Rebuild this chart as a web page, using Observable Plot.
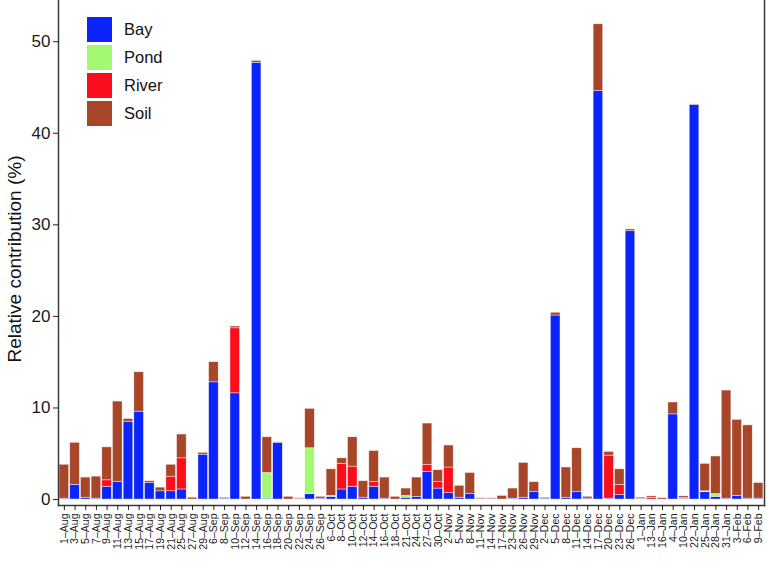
<!DOCTYPE html>
<html><head><meta charset="utf-8">
<script src="https://cdn.jsdelivr.net/npm/d3@7"></script>
<script src="https://cdn.jsdelivr.net/npm/@observablehq/plot@0.6"></script>
<style>
body{margin:0;background:#fff;font-family:"Liberation Sans",Arial,sans-serif}
#wrap{position:relative;width:767px;height:563px}
#legend{position:absolute;left:86px;top:15px}
.row{display:flex;align-items:center;height:28px}
.sw{width:27px;height:27px;box-sizing:border-box;border:1px solid #fff;margin-right:11px}
.lab{font-size:16.5px;color:#111}
</style></head><body><div id="wrap"></div><script>
const dates = ["1–Aug","3–Aug","5–Aug","7–Aug","9–Aug","11–Aug","13–Aug","15–Aug","17–Aug","19–Aug","21–Aug","25–Aug","27–Aug","29–Aug",
"6–Sep","8–Sep","10–Sep","12–Sep","14–Sep","16–Sep","18–Sep","20–Sep","22–Sep","24–Sep","26–Sep",
"6–Oct","8–Oct","10–Oct","12–Oct","14–Oct","16–Oct","18–Oct","21–Oct","24–Oct","27–Oct","30–Oct",
"2–Nov","5–Nov","8–Nov","11–Nov","14–Nov","17–Nov","23–Nov","26–Nov","29–Nov",
"2–Dec","5–Dec","8–Dec","11–Dec","14–Dec","17–Dec","20–Dec","23–Dec","26–Dec",
"1–Jan","13–Jan","16–Jan","4–Jan","10–Jan","22–Jan","25–Jan","28–Jan","31–Jan",
"3–Feb","6–Feb","9–Feb"];
const sources = ["Bay","Pond","River","Soil"];
const colors = ["#0a24fb","#a3f972","#fb0e1c","#a8462a"];
const bay = [0.1,1.6,0.2,0.1,1.4,1.9,8.5,9.6,1.8,0.9,0.9,1.1,0,4.9,12.8,0.1,11.6,0,47.7,0.1,6.2,0,0.05,0.6,0.1,0.3,1.1,1.4,0.2,1.4,0.1,0,0.2,0.3,3.0,1.2,0.7,0.2,0.6,0.05,0.05,0,0.1,0.2,0.8,0.1,20.1,0.2,0.8,0.1,44.6,0.1,0.5,29.3,0.05,0,0,9.3,0.1,43.1,0.8,0.3,0.1,0.4,0.1,0.1];
const pond = [0,0,0,0,0,0,0,0,0,0,0,0,0,0,0,0,0,0,0,2.8,0,0,0,5.0,0,0.1,0,0,0,0,0,0,0.2,0,0,0,0,0,0,0,0,0,0,0,0,0,0,0,0,0,0,0,0,0,0,0,0,0,0.05,0,0.1,0.3,0,0,0,0];
const river = [0,0,0,0,0.7,0,0,0,0,0,1.6,3.4,0,0,0,0,7.1,0,0,0,0,0,0,0,0,0,2.8,2.2,0,0.5,0,0,0,0,0.8,0.7,2.8,0,0,0,0,0,0,0,0,0,0,0,0,0,0,4.7,1.1,0,0,0.2,0,0,0,0,0,0,0,0,0,0];
const soil = [3.7,4.6,2.2,2.4,3.6,8.8,0.3,4.3,0.2,0.4,1.3,2.6,0.2,0.2,2.2,0.1,0.2,0.3,0.2,3.9,0.05,0.3,0.1,4.3,0.2,2.9,0.6,3.2,1.8,3.4,2.3,0.3,0.8,2.1,4.5,1.3,2.4,1.3,2.3,0.1,0.1,0.4,1.1,3.8,1.1,0.1,0.3,3.3,4.8,0.2,7.3,0.4,1.7,0.2,0.15,0.15,0.15,1.3,0.2,0.05,3.0,4.1,11.8,8.3,8.0,1.7];
const yTicks = [0,10,20,30,40,50];

const series = [bay, pond, river, soil];
const data = [];
dates.forEach((d, i) => sources.forEach((s, j) => {
  if (series[j][i] > 0) data.push({date: d, source: s, value: series[j][i]});
}));

const font = '"Liberation Sans", Arial, sans-serif';
const chart = Plot.plot({
  width: 767, height: 563,
  marginTop: 0, marginBottom: 58, marginLeft: 58, marginRight: 3,
  style: {fontFamily: font, background: "white", color: "#1a1a1a"},
  x: {domain: dates, padding: 0.1},
  y: {domain: [-0.65, 54.5]},
  color: {domain: sources, range: colors},
  marks: [
    Plot.barY(data, {x: "date", y: "value", fill: "source", z: "source", order: sources,
      stroke: "white", strokeWidth: 0.6, strokeOpacity: 0.7}),
    Plot.frame({anchor: "left", stroke: "#3a3a3a", strokeWidth: 1.5}),
    Plot.frame({anchor: "bottom", stroke: "#3a3a3a", strokeWidth: 1.5}),
    Plot.frame({anchor: "right", stroke: "#3a3a3a", strokeWidth: 1.5}),
    Plot.axisY({ticks: yTicks, tickSize: 5, tickPadding: 3, fontSize: 17, label: null, stroke: "#222"}),
    Plot.axisX({tickRotate: -90, tickSize: 5, tickPadding: 3, fontSize: 10.5, label: null, stroke: "#222"}),
    Plot.text(["Relative contribution (%)"], {frameAnchor: "left", textAnchor: "middle", dx: -44, dy: 6, rotate: -90, fontSize: 19, fill: "#111"})
  ]
});
const wrap = document.getElementById("wrap");
wrap.appendChild(chart);
const legend = d3.select(wrap).append("div").attr("id", "legend");
sources.forEach((s, i) => {
  const row = legend.append("div").attr("class", "row");
  row.append("div").attr("class", "sw").style("background", colors[i]);
  row.append("div").attr("class", "lab").text(s);
});
</script></body></html>
